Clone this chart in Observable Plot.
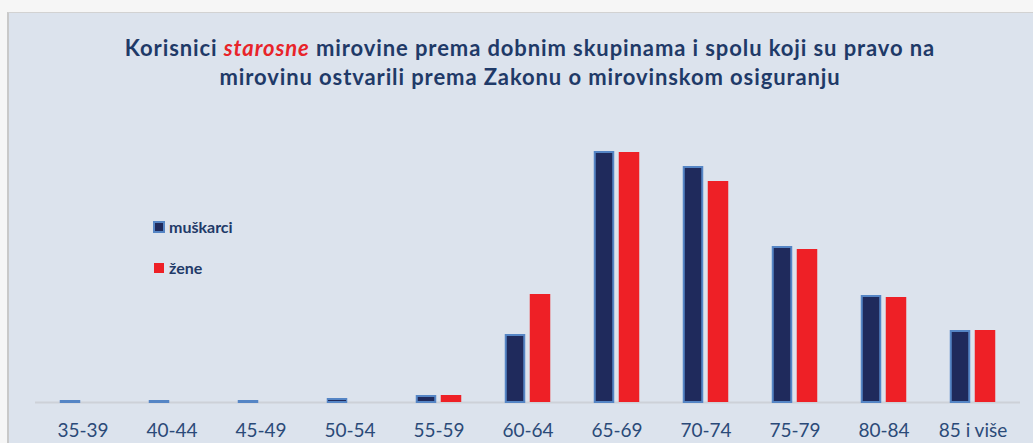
<!DOCTYPE html>
<html>
<head>
<meta charset="utf-8">
<script src="https://cdn.jsdelivr.net/npm/d3@7"></script>
<script src="https://cdn.jsdelivr.net/npm/@observablehq/plot@0.6"></script>
<style>
  html, body { margin: 0; padding: 0; }
  body { width: 1033px; height: 443px; overflow: hidden; background: #f6f6f6; position: relative; font-family: Lato, sans-serif; }
  #panel { position: absolute; left: 7px; top: 12px; right: 0; bottom: 0; background: #dce3ed; border-left: 2px solid #c9c9c9; border-top: 1px solid #d2d2d2; }
  #title { position: absolute; left: 30px; width: 1000px; top: 33px; text-align: center; font-weight: 700; font-size: 22px; letter-spacing: 0.9px; line-height: 29px; color: #1f3a68; }
  #title em { color: #e8242a; font-style: italic; }
  .leg { position: absolute; font-weight: 700; font-size: 16px; line-height: 20px; color: #1f3a68; }
  .sw { position: absolute; box-sizing: border-box; }
  #chart { position: absolute; left: 0; top: 100px; }
</style>
</head>
<body>
<div id="panel"></div>
<div id="title">Korisnici <em>starosne</em> mirovine prema dobnim skupinama i spolu koji su pravo na<br>mirovinu ostvarili prema Zakonu o mirovinskom osiguranju</div>
<div id="legend"></div>
<div id="chart"></div>
<script>
const ageGroups = ["35-39", "40-44", "45-49", "50-54", "55-59", "60-64", "65-69", "70-74", "75-79", "80-84", "85 i više"];
const men   = [1, 1, 1, 3, 6, 67, 250, 235, 155, 106, 71];
const women = [0, 0, 0, 0, 7, 108, 250, 221, 153, 105, 72];
const seriesNames = ["muškarci", "žene"];
const colors = { men: "#1f2a5c", menStroke: "#5585c5", women: "#ee2026" };

const data = ageGroups.map((a, i) => ({ age: a, men: men[i], women: women[i] }));

const chart = Plot.plot({
  width: 1033,
  height: 343,
  marginLeft: 35,
  marginRight: 13,
  marginTop: 40,
  marginBottom: 41,
  style: { background: "transparent", fontFamily: "Lato, sans-serif", overflow: "visible" },
  x: { domain: ageGroups, range: [35.25, 1019.75], padding: 0, label: null },
  y: { domain: [0, 262], axis: null },
  marks: [
    Plot.ruleY([0], { stroke: "#cdd1d8", strokeWidth: 2 }),
    Plot.barY(data, { x: "age", y: "men", fill: colors.men, stroke: colors.menStroke, strokeWidth: 2, insetLeft: 22.75, insetRight: 47.75 }),
    Plot.barY(data, { x: "age", y: "women", fill: colors.women, insetLeft: 46.75, insetRight: 21.75 }),
    Plot.axisX({ tickSize: 0, tickPadding: 21, fontSize: 19, fill: "#2b4a78", label: null })
  ]
});
document.getElementById("chart").appendChild(chart);

const legend = document.getElementById("legend");
const items = [
  { name: seriesNames[0], fill: colors.men, stroke: colors.menStroke, sx: 153, sy: 221, size: 12, ty: 217 },
  { name: seriesNames[1], fill: colors.women, stroke: colors.women, sx: 154, sy: 263, size: 10, ty: 258 }
];
items.forEach(it => {
  const s = document.createElement("div");
  s.className = "sw";
  Object.assign(s.style, { left: it.sx + "px", top: it.sy + "px", width: it.size + "px", height: it.size + "px", background: it.fill, border: "2px solid " + it.stroke });
  legend.appendChild(s);
  const t = document.createElement("div");
  t.className = "leg";
  t.style.left = "169px";
  t.style.top = it.ty + "px";
  t.textContent = it.name;
  legend.appendChild(t);
});
</script>
</body>
</html>
